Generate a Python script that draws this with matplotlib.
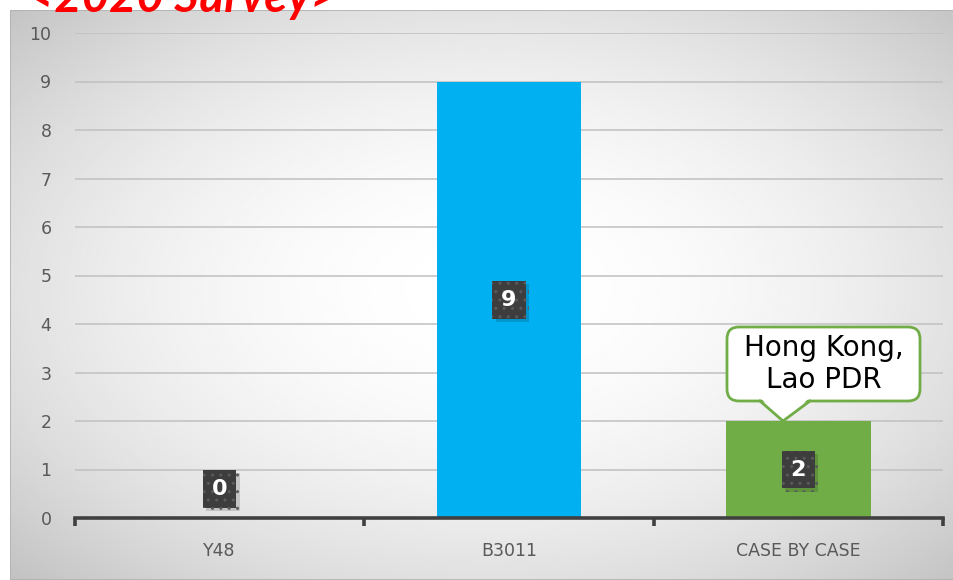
import numpy as np
import matplotlib
matplotlib.use("Agg")
import matplotlib.pyplot as plt
import matplotlib.transforms as mtransforms
import matplotlib.patheffects as pe
from matplotlib.patches import FancyBboxPatch, Polygon

categories = ["Y48", "B3011", "CASE BY CASE"]
values = [0, 9, 2]
bar_colors = ["#00b0f0", "#00b0f0", "#70ad47"]
callout_text = "Hong Kong,\nLao PDR"
title = "<2020 Survey>"

plt.rcParams['font.family'] = ['DejaVu Sans']

fig = plt.figure(figsize=(9.54, 5.8), dpi=100)
fig.patch.set_facecolor("white")

# radial grey background of the chart area
bg = fig.add_axes([10 / 954, 0, 944 / 954, 570 / 580], zorder=-5)
gx, gy = np.meshgrid(np.linspace(0, 944, 400), np.linspace(0, 570, 250))
r2 = ((gx - 480) / 480) ** 2 + ((gy - 280) / 290) ** 2
shade = 1 - 0.12 * r2
bg.imshow(shade, cmap="gray", vmin=0, vmax=1, aspect="auto",
          extent=[0, 1, 0, 1], interpolation="bilinear")
bg.set_xlim(0, 1)
bg.set_ylim(0, 1)
bg.axis("off")
bg.add_patch(plt.Rectangle((0, 0), 1, 1, transform=bg.transAxes, fill=False,
                           ec="#b0b0b0", lw=1.2))

ax = fig.add_axes([75 / 954, 62 / 580, 868 / 954, 485 / 580])
ax.patch.set_alpha(0)
x = np.arange(len(categories))
ax.bar(x, values, width=0.5, color=bar_colors, zorder=3)

ax.set_xlim(-0.5, len(categories) - 0.5)
ax.set_ylim(0, 10)
ax.set_yticks(range(0, 11))
ax.yaxis.grid(True, color="#c0c0c0", lw=1.1, zorder=0)
ax.set_axisbelow(True)
for s in ["top", "right", "left"]:
    ax.spines[s].set_visible(False)
ax.spines["bottom"].set_color("#404040")
ax.spines["bottom"].set_linewidth(2.6)
ax.spines["bottom"].set_zorder(4)

ax.set_xticks(np.arange(-0.5, len(categories), 1.0))
ax.set_xticklabels([])
ax.set_xticks(x, minor=True)
ax.set_xticklabels(categories, minor=True)
ax.tick_params(axis="x", which="major", length=6, width=2.6, color="#404040")
ax.tick_params(axis="x", which="minor", length=0, pad=17, labelsize=12.5,
               labelcolor="#595959")
ax.tick_params(axis="y", length=0, pad=17, labelsize=12.5, labelcolor="#595959")

# value labels: dark boxes with a light shadow
for xi, v in zip(x, values):
    ypos = max(v / 2, 0.6)
    t = ax.text(xi, ypos, str(v), ha="center", va="center", fontsize=16,
                fontweight="bold", color="white", zorder=6,
                bbox=dict(boxstyle="square,pad=0.4", fc="#3d3d3d",
                          ec="#5a5a5a", lw=0, hatch=".."))
    t.get_bbox_patch().set_path_effects([
        pe.SimplePatchShadow(offset=(2.5, -2.5), shadow_rgbFace="black",
                             alpha=0.15),
        pe.Normal()])

# callout on the last bar, drawn in pixel offsets from the tip
tip = (x[-1] - 0.053, values[-1])
tip_tr = fig.dpi_scale_trans + mtransforms.ScaledTranslation(tip[0], tip[1],
                                                             ax.transData)
green = "#70ad47"
box = FancyBboxPatch((-0.56, 0.20), 1.93, 0.74,
                     boxstyle="round,pad=0,rounding_size=0.12",
                     transform=tip_tr, fc="white", ec=green, lw=2,
                     zorder=7, clip_on=False)
ax.add_patch(box)
tail = Polygon([(-0.23, 0.235), (0.0, 0.0), (0.27, 0.235)], closed=False,
               transform=tip_tr, fc="white", ec="none", zorder=8, clip_on=False)
ax.add_patch(tail)
ax.plot([-0.23, 0.0, 0.27], [0.20, 0.0, 0.20], transform=tip_tr, color=green,
        lw=2, zorder=9, clip_on=False, solid_joinstyle="miter")
ax.text(0.405, 0.57, callout_text, transform=tip_tr, ha="center",
        va="center", fontsize=20, color="black", linespacing=1.2, zorder=10)

fig.text(27 / 954, 1 - 12 / 580, title, ha="left", va="baseline",
         fontsize=34, fontweight="bold", fontstyle="italic", color="red",
         family=["Lato", "DejaVu Sans"], zorder=10)

fig.savefig("out.png", dpi=100)
